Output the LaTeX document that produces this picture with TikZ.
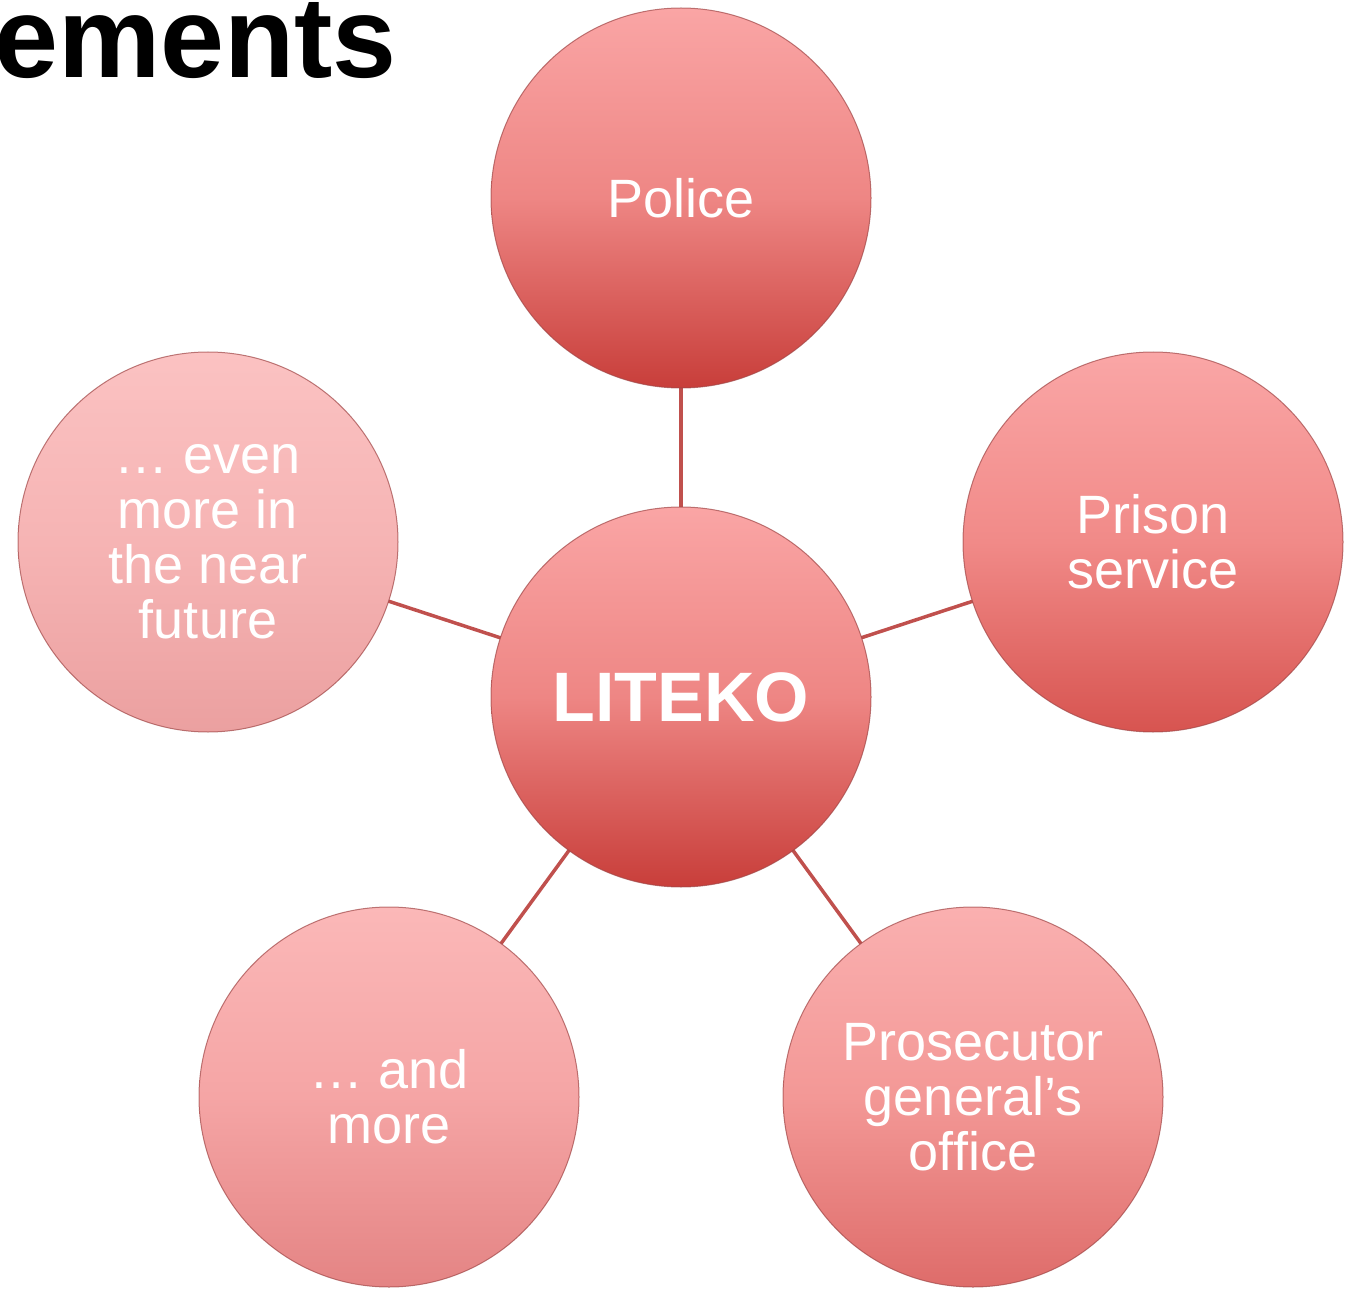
\documentclass[tikz,border=0pt]{standalone}
\usepackage{fontspec}
\setmainfont{Liberation Sans}
\usetikzlibrary{backgrounds}
\definecolor{linkred}{RGB}{192,80,77}
\definecolor{rimred}{RGB}{160,70,70}
\definecolor{topA}{RGB}{250,165,165}\definecolor{midA}{RGB}{238,134,132}\definecolor{botA}{RGB}{200,62,58}
\definecolor{topB}{RGB}{250,166,166}\definecolor{midB}{RGB}{241,138,136}\definecolor{botB}{RGB}{215,84,80}
\definecolor{topC}{RGB}{250,176,176}\definecolor{midC}{RGB}{243,152,150}\definecolor{botC}{RGB}{222,108,106}
\definecolor{topD}{RGB}{251,184,184}\definecolor{midD}{RGB}{245,165,165}\definecolor{botD}{RGB}{228,132,132}
\definecolor{topE}{RGB}{251,194,194}\definecolor{midE}{RGB}{246,180,180}\definecolor{botE}{RGB}{235,160,160}
\tikzset{
  bubble/.style={circle, minimum size=380pt, inner sep=0pt, draw=rimred, draw opacity=0.7, line width=1pt,
    shading=axis, shading angle=0, text=white, align=center,
    font=\fontsize{54}{55}\selectfont},
  shadeA/.style={top color=topA, bottom color=botA, middle color=midA},
  shadeB/.style={top color=topB, bottom color=botB, middle color=midB},
  shadeC/.style={top color=topC, bottom color=botC, middle color=midC},
  shadeD/.style={top color=topD, bottom color=botD, middle color=midD},
  shadeE/.style={top color=topE, bottom color=botE, middle color=midE},
  link/.style={draw=linkred, line width=3.5pt},
  titletext/.style={font=\fontsize{115}{120}\selectfont\bfseries, text=black, inner sep=0pt}
}
\begin{document}
\begin{tikzpicture}[x=1pt,y=1pt]
\useasboundingbox (0,0) rectangle (1355,-1289);
\node[titletext, anchor=base west] (title) at (-6,-78) {ements};
\node[bubble, shadeA, font=\fontsize{70}{70}\selectfont\bfseries] (lit) at (681,-697) {LITEKO};
\node[bubble, shadeA] (pol) at (681,-198) {Police};
\node[bubble, shadeB] (pri) at (1153,-542) {Prison\\service};
\node[bubble, shadeC] (pro) at (973,-1097) {Prosecutor\\general’s\\office};
\node[bubble, shadeD] (and) at (389,-1097) {… and\\more};
\node[bubble, shadeE] (eve) at (208,-542) {… even\\more in\\the near\\future};
\begin{scope}[on background layer]
\draw[link] (lit.center) -- (pol.center);
\draw[link] (lit.center) -- (pri.center);
\draw[link] (lit.center) -- (pro.center);
\draw[link] (lit.center) -- (and.center);
\draw[link] (lit.center) -- (eve.center);
\end{scope}
\end{tikzpicture}
\end{document}
